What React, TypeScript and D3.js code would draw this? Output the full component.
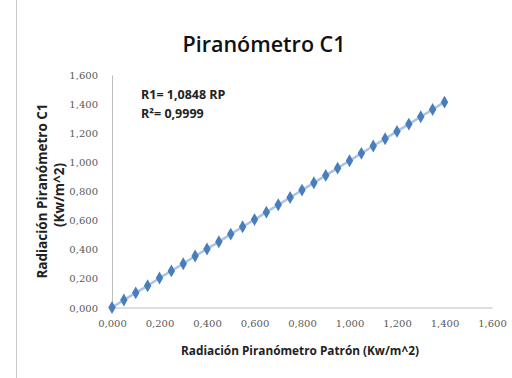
import React, { useEffect, useRef } from "react";
import * as d3 from "d3";

const patron = [
  0.0, 0.05, 0.1, 0.15, 0.2, 0.25, 0.3, 0.35, 0.4, 0.45, 0.5, 0.55, 0.6, 0.65, 0.7,
  0.75, 0.8, 0.85, 0.9, 0.95, 1.0, 1.05, 1.1, 1.15, 1.2, 1.25, 1.3, 1.35, 1.4,
];
const c1 = [
  0.0, 0.052, 0.101, 0.15, 0.203, 0.252, 0.301, 0.354, 0.403, 0.452, 0.505, 0.556,
  0.605, 0.656, 0.707, 0.757, 0.808, 0.858, 0.909, 0.959, 1.01, 1.061, 1.111, 1.161,
  1.212, 1.262, 1.313, 1.363, 1.413,
];
const ticks = [0, 0.2, 0.4, 0.6, 0.8, 1.0, 1.2, 1.4, 1.6];

const fmt = (v: number) => v.toFixed(3).replace(".", ",");

export default function App() {
  const ref = useRef<SVGSVGElement>(null);

  useEffect(() => {
    const svg = d3.select(ref.current);
    svg.selectAll("*").remove();

    const x = d3.scaleLinear().domain([0, 1.6]).range([112, 492]);
    const y = d3.scaleLinear().domain([0, 1.6]).range([307.5, 75]);

    svg.append("rect").attr("width", 512).attr("height", 378).attr("fill", "#fff");
    // chart frame edge on the left
    svg.append("line").attr("x1", 16.5).attr("x2", 16.5).attr("y1", 0).attr("y2", 378)
      .attr("stroke", "#c8c8c8").attr("stroke-width", 1);

    // axes
    const gx = svg.append("g").attr("transform", `translate(0,${y(0)})`)
      .call(d3.axisBottom(x).tickValues(ticks).tickSize(0).tickPadding(12).tickFormat((d) => fmt(+d)));
    const gy = svg.append("g").attr("transform", `translate(${x(0)},0)`)
      .call(d3.axisLeft(y).tickValues(ticks).tickSize(0).tickPadding(14).tickFormat((d) => fmt(+d)));
    [gx, gy].forEach((g) => {
      g.select(".domain").attr("stroke", "#bdbdbd");
      g.selectAll("text").attr("fill", "#595959").style("font-family", "DejaVu Serif")
        .style("font-size", "10px");
    });
    gy.selectAll("text").attr("dy", "0.35em");

    const pts = patron.map((p, i) => [p, c1[i]] as [number, number]);

    // trend line
    svg.append("path")
      .attr("d", d3.line().x((d) => x(d[0])).y((d) => y(d[1]))(pts))
      .attr("fill", "none").attr("stroke", "#a9c4e8").attr("stroke-width", 2.5);

    const sym = d3.symbol().type(d3.symbolDiamond).size(48);
    svg.append("g").selectAll("path").data(pts).join("path")
      .attr("d", sym)
      .attr("transform", (d) => `translate(${x(d[0])},${y(d[1])})`)
      .attr("fill", "#4a7ebb");

    const font = "'Open Sans', sans-serif";
    svg.append("text").attr("x", 264).attr("y", 52).attr("text-anchor", "middle")
      .style("font-family", font).style("font-size", "21.5px").style("font-weight", 600)
      .attr("fill", "#111").text("Piranómetro C1");

    svg.append("text").attr("x", 141).attr("y", 99)
      .style("font-family", font).style("font-size", "12.5px").style("font-weight", "bold")
      .attr("fill", "#222").text("R1= 1,0848 RP");
    svg.append("text").attr("x", 141).attr("y", 118)
      .style("font-family", font).style("font-size", "12.5px").style("font-weight", "bold")
      .attr("fill", "#222").text("R²= 0,9999");

    svg.append("text").attr("x", 300).attr("y", 355).attr("text-anchor", "middle")
      .style("font-family", font).style("font-size", "11.8px").style("font-weight", "bold")
      .attr("fill", "#222").text("Radiación Piranómetro Patrón (Kw/m^2)");

    const yl = svg.append("text").attr("transform", "translate(47,191) rotate(-90)")
      .attr("text-anchor", "middle")
      .style("font-family", font).style("font-size", "13.5px").style("font-weight", "bold")
      .attr("fill", "#222");
    yl.append("tspan").attr("x", 0).attr("y", 0).text("Radiación Piranómetro C1");
    yl.append("tspan").attr("x", -4).attr("y", 17).text("(Kw/m^2)");
  }, []);

  return (
    <svg ref={ref} width={512} height={378} style={{ position: "absolute", left: 0, top: 0 }} />
  );
}
